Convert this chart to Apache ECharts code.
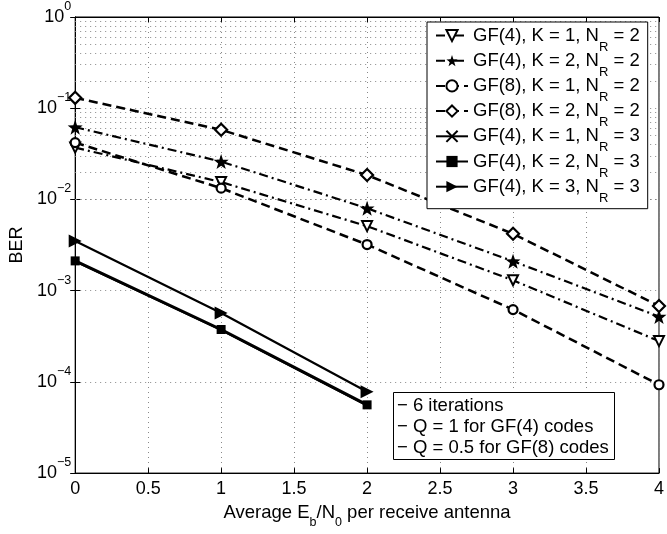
<!DOCTYPE html>
<html><head><meta charset="utf-8">
<script src="https://cdn.jsdelivr.net/npm/echarts@6/dist/echarts.min.js"></script>
<style>html,body{margin:0;padding:0;background:#fff}#c{width:667px;height:534px}</style>
</head><body><div id="c"></div>
<script>
const xVals = [0, 1, 2, 3, 4];
const xValsNR3 = [0, 1, 2];
const gf4k1nr2 = [0.037, 0.0155, 0.0051, 0.0013, 0.00028];
const gf4k2nr2 = [0.062, 0.026, 0.0080, 0.0021, 0.00052];
const gf8k1nr2 = [0.042, 0.0133, 0.0032, 0.00062, 0.000093];
const gf8k2nr2 = [0.130, 0.058, 0.0185, 0.0042, 0.00068];
const gf4k1nr3 = [0.00210, 0.00037, 0.000055];
const gf4k2nr3 = [0.00212, 0.000375, 0.000056];
const gf4k3nr3 = [0.0035, 0.00057, 0.000078];
const legendLabels = [
  ['GF(4), K = 1, N', 'R', ' = 2'],
  ['GF(4), K = 2, N', 'R', ' = 2'],
  ['GF(8), K = 1, N', 'R', ' = 2'],
  ['GF(8), K = 2, N', 'R', ' = 2'],
  ['GF(4), K = 1, N', 'R', ' = 3'],
  ['GF(4), K = 2, N', 'R', ' = 3'],
  ['GF(4), K = 3, N', 'R', ' = 3']
];
const noteLines = ['− 6 iterations', '− Q = 1 for GF(4) codes', '− Q = 0.5 for GF(8) codes'];
const minorDecades = [1e-5, 1e-4, 1e-3, 1e-2, 1e-1];
const minorMults = [2, 3, 4, 5, 6, 7, 8, 9];

const FONT = 'Liberation Sans, Arial, sans-serif';
const names = legendLabels.map(l => l.join(''));
const pairs = (xs, ys) => xs.map((x, i) => [x, ys[i]]);
const star = 'path://M0,-10 L2.35,-3.24 L9.51,-3.09 L3.8,1.24 L5.88,8.09 L0,4 L-5.88,8.09 L-3.8,1.24 L-9.51,-3.09 L-2.35,-3.24Z';
const dashed = [9, 5];
const dashdot = [9, 4, 2, 4];

const minorLines = [];
minorDecades.forEach(d => minorMults.forEach(m => minorLines.push({ yAxis: d * m })));

function mk(name, xs, ys, opt) {
  return Object.assign({
    name, type: 'line', data: pairs(xs, ys), z: 5,
    itemStyle: { color: '#000', borderColor: '#000', borderWidth: 1.5 },
    emphasis: { disabled: true }, animation: false
  }, opt);
}

const series = [
  mk(names[0], xVals, gf4k1nr2, { symbol: 'triangle', symbolRotate: 180, symbolSize: 10,
    itemStyle: { color: '#fff', borderColor: '#000', borderWidth: 2 },
    lineStyle: { color: '#000', width: 2.2, type: dashdot } }),
  mk(names[1], xVals, gf4k2nr2, { symbol: star, symbolSize: 15,
    itemStyle: { color: '#000' }, lineStyle: { color: '#000', width: 2.2, type: dashdot } }),
  mk(names[2], xVals, gf8k1nr2, { symbol: 'circle', symbolSize: 9,
    itemStyle: { color: '#fff', borderColor: '#000', borderWidth: 2.2 },
    lineStyle: { color: '#000', width: 2.5, type: dashed } }),
  mk(names[3], xVals, gf8k2nr2, { symbol: 'diamond', symbolSize: 12,
    itemStyle: { color: '#fff', borderColor: '#000', borderWidth: 2.2 },
    lineStyle: { color: '#000', width: 2.5, type: dashed } }),
  mk(names[4], xValsNR3, gf4k1nr3, { symbol: 'path://M-1,-1 L1,1 M1,-1 L-1,1', symbolSize: 6,
    itemStyle: { color: '#000', borderColor: '#000', borderWidth: 2 },
    lineStyle: { color: '#000', width: 2, type: 'solid' } }),
  mk(names[5], xValsNR3, gf4k2nr3, { symbol: 'rect', symbolSize: 9,
    itemStyle: { color: '#000' }, lineStyle: { color: '#000', width: 3, type: 'solid' } }),
  mk(names[6], xValsNR3, gf4k3nr3, { symbol: 'triangle', symbolRotate: -90, symbolSize: 13,
    itemStyle: { color: '#000' }, lineStyle: { color: '#000', width: 2.2, type: 'solid' } }),
  { name: 'minor', type: 'line', data: [], silent: true, z: 1,
    markLine: { silent: true, symbol: 'none', animation: false, label: { show: false },
      lineStyle: { color: '#888', width: 1, type: [1, 4] }, data: minorLines } }
];

const supMap = { '-1': '−1', '-2': '−2', '-3': '−3', '-4': '−4', '-5': '−5', '0': '0' };

const option = {
  backgroundColor: '#fff',
  animation: false,
  textStyle: { fontFamily: FONT },
  grid: { left: 72, right: 6, top: 15, bottom: 54.5, show: true, borderColor: '#000', borderWidth: 1, containLabel: false },
  xAxis: [{
    type: 'value', min: 0, max: 4, interval: 0.5,
    name: '{a|Average E}{s|b}{a|/N}{s|0}{a| per receive antenna}',
    nameLocation: 'middle', nameGap: 29,
    nameTextStyle: { rich: {
      a: { fontSize: 18.5, fontFamily: FONT, color: '#000' },
      s: { fontSize: 12.5, fontFamily: FONT, color: '#000', verticalAlign: 'bottom', padding: [0, 0, -7, 0] } } },
    axisLine: { lineStyle: { color: '#000' } },
    axisTick: { inside: true, length: 5, lineStyle: { color: '#000' } },
    axisLabel: { fontSize: 18, color: '#000', margin: 7, fontFamily: FONT,
      formatter: v => String(v) },
    splitLine: { show: true, lineStyle: { color: '#888', width: 1, type: [1, 4] } }
  }, {
    type: 'value', min: 0, max: 4, interval: 0.5, position: 'top',
    axisLine: { lineStyle: { color: '#000' } },
    axisTick: { inside: true, length: 5, lineStyle: { color: '#000' } },
    axisLabel: { show: false }, splitLine: { show: false }
  }],
  yAxis: [{
    type: 'log', logBase: 10, min: 1e-5, max: 1,
    name: 'BER', nameLocation: 'middle', nameGap: 45, nameRotate: 90,
    nameTextStyle: { fontSize: 18, color: '#000', fontFamily: FONT },
    axisLine: { lineStyle: { color: '#000' } },
    axisTick: { inside: true, length: 5, lineStyle: { color: '#000' } },
    axisLabel: { color: '#000', margin: 4,
      formatter: v => '{b|10}{e|' + supMap[String(Math.round(Math.log10(v)))] + '}',
      rich: {
        b: { fontSize: 18, lineHeight: 34, fontFamily: FONT, color: '#000', verticalAlign: 'middle' },
        e: { fontSize: 12.5, lineHeight: 13, fontFamily: FONT, color: '#000', verticalAlign: 'top' }
      } },
    splitLine: { show: true, lineStyle: { color: '#888', width: 1, type: [1, 4] } }
  }, {
    type: 'log', logBase: 10, min: 1e-5, max: 1, position: 'right',
    axisLine: { lineStyle: { color: '#000' } },
    axisTick: { inside: true, length: 5, lineStyle: { color: '#000' } },
    axisLabel: { show: false }, splitLine: { show: false }
  }],
  legend: {
    data: names, orient: 'vertical', left: 427, top: 22, z: 20,
    backgroundColor: '#fff', borderColor: '#000', borderWidth: 1,
    padding: [4, 8, 4, 8], itemGap: -2.3, itemWidth: 32, itemHeight: 14,
    selectedMode: false,
    formatter: n => { const l = legendLabels[names.indexOf(n)]; return '{a|' + l[0] + '}{s|' + l[1] + '}{a|' + l[2] + '}'; },
    textStyle: { rich: {
      a: { fontSize: 18.5, fontFamily: FONT, color: '#000', lineHeight: 20 },
      s: { fontSize: 13, fontFamily: FONT, color: '#000', verticalAlign: 'bottom', padding: [0, 0, -8, 0] } } }
  },
  title: {
    text: noteLines.join('\n'), left: 393, top: 392, z: 20,
    backgroundColor: '#fff', borderColor: '#000', borderWidth: 1,
    padding: [3, 6, 2, 4],
    textStyle: { fontSize: 18.5, fontWeight: 'normal', color: '#000', fontFamily: FONT, lineHeight: 21 }
  },
  series
};
series.forEach(s => { if (s.name !== 'minor') { s.xAxisIndex = 0; s.yAxisIndex = 0; } });
const chart = echarts.init(document.getElementById('c'), null, { renderer: 'canvas' });
chart.setOption(option);
</script></body></html>
